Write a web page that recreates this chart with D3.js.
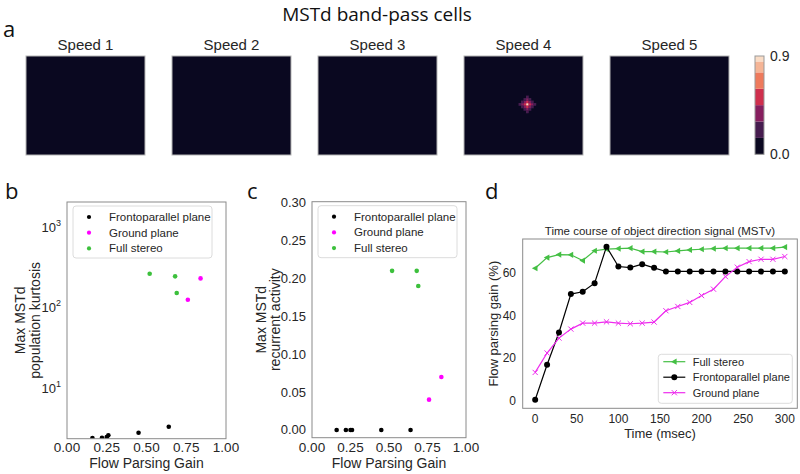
<!DOCTYPE html>
<meta charset="utf-8">
<style>
  body { margin: 0; background: #fff; }
  text { font-family: "Liberation Sans", Arial, sans-serif; fill: #262626; }
  .big { font-family: "Open Sans", sans-serif; fill: #111; }
</style>
<body>
<script src="https://cdn.jsdelivr.net/npm/d3@7"></script>
<script>

// ---- panel a: heatmaps per speed ----
var speeds = ["Speed 1", "Speed 2", "Speed 3", "Speed 4", "Speed 5"];
var gridCols = 48, gridRows = 40;
// non-zero cells [speed, col, row, value]; everything else is 0
var spotCells = [
  ["Speed 4", 25, 19, 0.88],
  ["Speed 4", 24, 19, 0.55], ["Speed 4", 26, 19, 0.55], ["Speed 4", 25, 18, 0.55], ["Speed 4", 25, 20, 0.55],
  ["Speed 4", 24, 18, 0.4], ["Speed 4", 26, 18, 0.4], ["Speed 4", 24, 20, 0.4], ["Speed 4", 26, 20, 0.4],
  ["Speed 4", 23, 19, 0.32], ["Speed 4", 27, 19, 0.32], ["Speed 4", 25, 17, 0.32], ["Speed 4", 25, 21, 0.32],
  ["Speed 4", 22, 19, 0.16], ["Speed 4", 28, 19, 0.16], ["Speed 4", 25, 16, 0.16], ["Speed 4", 25, 22, 0.16],
  ["Speed 4", 23, 18, 0.16], ["Speed 4", 27, 18, 0.16], ["Speed 4", 23, 20, 0.16], ["Speed 4", 27, 20, 0.16],
  ["Speed 4", 24, 17, 0.16], ["Speed 4", 26, 17, 0.16], ["Speed 4", 24, 21, 0.16], ["Speed 4", 26, 21, 0.16]
];
var cbarLevels = [0, 0.15, 0.3, 0.45, 0.6, 0.75, 0.85, 0.9];
var cbarColors = ["#0a0820", "#461c4f", "#861e5e", "#cf2f4d", "#ee7a5c", "#f5b596", "#f9dcc6"];
var cbarTicks = [0.0, 0.9];

// ---- panels b and c ----
var groups = ["Frontoparallel plane", "Ground plane", "Full stereo"];
var groupColors = ["#000000", "#ff00ff", "#3cc03c"];
var frontoGain = [0.16, 0.22, 0.25, 0.26, 0.45, 0.64];
var frontoKurtosis = [2.41, 2.43, 2.48, 2.61, 2.81, 3.33];
var frontoRecurrent = [0, 0, 0, 0, 0, 0];
var groundGain = [0.84, 0.76];
var groundKurtosis = [232, 126];
var groundRecurrent = [0.07, 0.04];
var stereoGain = [0.52, 0.68, 0.69];
var stereoKurtosis = [265, 246, 153];
var stereoRecurrent = [0.21, 0.21, 0.19];
var gainTicks = [0, 0.25, 0.5, 0.75, 1];
var kurtTicks = [10, 100, 1000];
var recTicks = [0, 0.05, 0.1, 0.15, 0.2, 0.25, 0.3];

// ---- panel d ----
var times = [0, 14.3, 28.6, 42.9, 57.1, 71.4, 85.7, 100, 114.3, 128.6, 142.9, 157.1,
             171.4, 185.7, 200, 214.3, 228.6, 242.9, 257.1, 271.4, 285.7, 300];
var fullStereo = [62.0, 67.0, 68.4, 68.3, 65.6, 70.2, 71.0, 71.2, 71.4, 69.8, 69.8, 69.6,
                  70.1, 70.6, 70.9, 71.2, 71.4, 71.4, 71.4, 71.4, 71.4, 71.9];
var frontoTime = [0.4, 16.8, 31.9, 49.9, 51.0, 55.0, 72.1, 62.8, 62.3, 63.9, 62.2, 60.5,
                  60.5, 60.5, 60.5, 60.5, 60.5, 60.5, 60.5, 60.5, 60.5, 60.5];
var groundTime = [13.2, 22.3, 29.3, 33.5, 36.3, 36.3, 36.9, 36.3, 36.0, 36.3, 36.8, 42.1,
                  44.1, 46.0, 49.2, 52.2, 58.1, 62.5, 65.1, 66.2, 66.2, 67.5];
var timeTicks = [0, 50, 100, 150, 200, 250, 300];
var gainPctTicks = [0, 20, 40, 60];

var spine = "#8a8a8a";

var svg = d3.select("body").append("svg")
    .attr("width", 800)
    .attr("height", 474);

// soften the heatmap cells a little, like imshow interpolation
svg.append("defs").append("filter")
    .attr("id", "soft")
  .append("feGaussianBlur")
    .attr("stdDeviation", 0.7);

svg.append("text").attr("class", "big")
    .attr("x", 377).attr("y", 21)
    .attr("text-anchor", "middle")
    .style("font-size", "19px")
    .text("MSTd band-pass cells");

// panel letters
[["a", 3, 37], ["b", 5, 199], ["c", 247, 199], ["d", 485, 199]].forEach(function(l) {
  svg.append("text").attr("class", "big")
      .attr("x", l[1]).attr("y", l[2])
      .style("font-size", "22px")
      .text(l[0]);
});

// ===== panel a =====
var color = d3.scaleThreshold()
    .domain(cbarLevels.slice(1, -1))
    .range(cbarColors);

var hx = d3.scaleBand().domain(speeds).range([26, 729]).paddingInner(0.185);
var hTop = 56, hH = 99;
var cx = d3.scaleLinear().domain([0, gridCols]).range([0, hx.bandwidth()]);
var cy = d3.scaleLinear().domain([0, gridRows]).range([0, hH]);

var maps = svg.selectAll("g.map")
    .data(speeds)
  .enter().append("g")
    .attr("class", "map")
    .attr("transform", function(d) { return "translate(" + hx(d) + "," + hTop + ")"; });

maps.append("rect")
    .attr("width", hx.bandwidth())
    .attr("height", hH)
    .attr("fill", color(0));

maps.append("g")
    .attr("filter", "url(#soft)")
  .selectAll("rect.cell")
    .data(function(s) { return spotCells.filter(function(c) { return c[0] == s; }); })
  .enter().append("rect")
    .attr("class", "cell")
    .attr("x", function(c) { return cx(c[1]); })
    .attr("y", function(c) { return cy(c[2]); })
    .attr("width", cx(1) + 0.3)
    .attr("height", cy(1) + 0.3)
    .attr("fill", function(c) { return color(c[3]); });

maps.append("rect")
    .attr("width", hx.bandwidth())
    .attr("height", hH)
    .attr("fill", "none")
    .attr("stroke", "#b5b5b5")
    .attr("stroke-width", 1);

maps.append("text")
    .attr("x", hx.bandwidth() / 2)
    .attr("y", -6)
    .attr("text-anchor", "middle")
    .style("font-size", "15px")
    .text(function(d) { return d; });

// colorbar
var cbX = 755, cbW = 9;
var cbY = d3.scaleLinear().domain([0, 0.9]).range([154.3, 56]);
var bands = d3.pairs(cbarLevels);
svg.selectAll("rect.band")
    .data(bands)
  .enter().append("rect")
    .attr("class", "band")
    .attr("x", cbX)
    .attr("y", function(d) { return cbY(d[1]); })
    .attr("width", cbW)
    .attr("height", function(d) { return cbY(d[0]) - cbY(d[1]); })
    .attr("fill", function(d, i) { return cbarColors[i]; });
svg.append("rect")
    .attr("x", cbX).attr("y", cbY(0.9))
    .attr("width", cbW).attr("height", cbY(0) - cbY(0.9))
    .attr("fill", "none").attr("stroke", "#999");
svg.selectAll("text.cbt")
    .data(cbarTicks)
  .enter().append("text")
    .attr("class", "cbt")
    .attr("x", cbX + cbW + 6)
    .attr("y", function(d) { return cbY(d) + 5; })
    .style("font-size", "14px")
    .text(function(d) { return d.toFixed(1); });

// ===== scatter panels b, c =====
function scatterPanel(box, yScale, yKey, yTickVals, yTickFmt, ylab, ylabX, clipId) {
  var x = d3.scaleLinear().domain([0, 1]).range([box.x0, box.x1]);
  var g = svg.append("g");

  g.append("clipPath").attr("id", clipId)
    .append("rect")
      .attr("x", box.x0).attr("y", box.y0)
      .attr("width", box.x1 - box.x0).attr("height", box.y1 - box.y0);

  var sets = [
    {gain: frontoGain, val: yKey == "k" ? frontoKurtosis : frontoRecurrent, c: groupColors[0]},
    {gain: groundGain, val: yKey == "k" ? groundKurtosis : groundRecurrent, c: groupColors[1]},
    {gain: stereoGain, val: yKey == "k" ? stereoKurtosis : stereoRecurrent, c: groupColors[2]}
  ];
  var pts = g.append("g").attr("clip-path", "url(#" + clipId + ")");
  sets.forEach(function(s) {
    pts.selectAll(null)
        .data(s.gain)
      .enter().append("circle")
        .attr("cx", function(d) { return x(d); })
        .attr("cy", function(d, i) { return yScale(s.val[i]); })
        .attr("r", 2.3)
        .attr("fill", s.c);
  });

  g.append("rect")
      .attr("x", box.x0).attr("y", box.y0)
      .attr("width", box.x1 - box.x0).attr("height", box.y1 - box.y0)
      .attr("fill", "none").attr("stroke", spine);

  g.selectAll("text.xt")
      .data(gainTicks)
    .enter().append("text")
      .attr("x", function(d) { return x(d); })
      .attr("y", 452)
      .attr("text-anchor", "middle")
      .style("font-size", "13.5px")
      .text(d3.format(".2f"));

  g.append("text")
      .attr("x", (box.x0 + box.x1) / 2)
      .attr("y", 468)
      .attr("text-anchor", "middle")
      .style("font-size", "14px")
      .text("Flow Parsing Gain");

  var yt = g.selectAll("text.yt")
      .data(yTickVals)
    .enter().append("text")
      .attr("x", box.x0 - 6)
      .attr("y", function(d) { return yScale(d) + 4.5; })
      .attr("text-anchor", "end")
      .style("font-size", "13px");
  yTickFmt(yt);

  var cyMid = (box.y0 + box.y1) / 2;
  ylab.forEach(function(t, i) {
    g.append("text")
        .attr("transform", "translate(" + ylabX[i] + "," + cyMid + ") rotate(-90)")
        .attr("text-anchor", "middle")
        .style("font-size", "14px")
        .text(t);
  });

  // legend
  var lg = g.append("g").attr("transform", "translate(" + (box.x0 + 6) + "," + (box.y0 + 4) + ")");
  lg.append("rect")
      .attr("width", 139).attr("height", 52)
      .attr("rx", 3)
      .attr("fill", "#fff").attr("stroke", "#dcdcdc");
  groups.forEach(function(name, i) {
    var yy = 11 + i * 15.7;
    lg.append("circle").attr("cx", 16).attr("cy", yy).attr("r", 2.1).attr("fill", groupColors[i]);
    lg.append("text").attr("x", 36).attr("y", yy + 4)
        .style("font-size", "11.5px").text(name);
  });
}

var yb = d3.scaleLog().domain([2.37, 2060]).range([438.7, 202]);
scatterPanel({x0: 67, x1: 226, y0: 202, y1: 438.7}, yb, "k", kurtTicks,
  function(sel) {
    sel.text("10").append("tspan")
        .attr("dy", -6).style("font-size", "9px")
        .text(function(d) { return Math.round(Math.log10(d)); });
    sel.attr("x", 61);
  },
  ["Max MSTd", "population kurtosis"], [25, 40], "clipB");

var yc = d3.scaleLinear().domain([-0.0102, 0.3013]).range([437.7, 201.7]);
scatterPanel({x0: 312, x1: 466, y0: 201.7, y1: 437.7}, yc, "r", recTicks,
  function(sel) { sel.text(d3.format(".2f")); },
  ["Max MSTd", "recurrent activity"], [266, 280], "clipC");

// ===== panel d =====
var dBox = {x0: 522.7, x1: 797.3, y0: 239, y1: 408.3};
var xd = d3.scaleLinear().domain([-15, 315]).range([dBox.x0, dBox.x1]);
var yd = d3.scaleLinear().domain([-3.6, 75.7]).range([dBox.y1, dBox.y0]);

var gd = svg.append("g");
gd.append("text")
    .attr("x", (dBox.x0 + dBox.x1) / 2).attr("y", 234.5)
    .attr("text-anchor", "middle")
    .style("font-size", "11.5px")
    .text("Time course of object direction signal (MSTv)");

var seriesD = [
  {name: "Full stereo", vals: fullStereo, c: "#44bf44", m: "tri"},
  {name: "Frontoparallel plane", vals: frontoTime, c: "#000000", m: "dot"},
  {name: "Ground plane", vals: groundTime, c: "#ee2cee", m: "x"}
];

function marker(sel, s) {
  if (s.m == "dot") {
    sel.append("circle").attr("r", 3).attr("fill", s.c);
  } else if (s.m == "tri") {
    sel.append("path").attr("d", "M-3.3,0L2.3,-3.1L2.3,3.1Z").attr("fill", s.c);
  } else {
    sel.append("path").attr("d", "M-2.6,-2.6L2.6,2.6M-2.6,2.6L2.6,-2.6")
        .attr("stroke", s.c).attr("stroke-width", 1).attr("fill", "none");
  }
}

var line = d3.line()
    .x(function(d, i) { return xd(times[i]); })
    .y(function(d) { return yd(d); });

seriesD.forEach(function(s) {
  gd.append("path")
      .attr("d", line(s.vals))
      .attr("fill", "none")
      .attr("stroke", s.c)
      .attr("stroke-width", 1.2);
  gd.selectAll(null)
      .data(s.vals)
    .enter().append("g")
      .attr("transform", function(d, i) { return "translate(" + xd(times[i]) + "," + yd(d) + ")"; })
      .each(function() { marker(d3.select(this), s); });
});

gd.append("rect")
    .attr("x", dBox.x0).attr("y", dBox.y0)
    .attr("width", dBox.x1 - dBox.x0).attr("height", dBox.y1 - dBox.y0)
    .attr("fill", "none").attr("stroke", spine);

gd.selectAll("text.xt")
    .data(timeTicks)
  .enter().append("text")
    .attr("x", function(d) { return xd(d); })
    .attr("y", 423)
    .attr("text-anchor", "middle")
    .style("font-size", "12px")
    .text(function(d) { return d; });
gd.append("text")
    .attr("x", (dBox.x0 + dBox.x1) / 2).attr("y", 438)
    .attr("text-anchor", "middle")
    .style("font-size", "13px")
    .text("Time (msec)");

gd.selectAll("text.yt")
    .data(gainPctTicks)
  .enter().append("text")
    .attr("x", 516)
    .attr("y", function(d) { return yd(d) + 4.3; })
    .attr("text-anchor", "end")
    .style("font-size", "12px")
    .text(function(d) { return d; });
gd.append("text")
    .attr("transform", "translate(498," + ((dBox.y0 + dBox.y1) / 2) + ") rotate(-90)")
    .attr("text-anchor", "middle")
    .style("font-size", "13px")
    .text("Flow parsing gain (%)");

var lgd = gd.append("g").attr("transform", "translate(658.3,354.3)");
lgd.append("rect")
    .attr("width", 134).attr("height", 49).attr("rx", 3)
    .attr("fill", "#fff").attr("stroke", "#dcdcdc");
seriesD.forEach(function(s, i) {
  var yy = 7.4 + i * 15.5;
  lgd.append("line").attr("x1", 5).attr("x2", 27).attr("y1", yy).attr("y2", yy)
      .attr("stroke", s.c).attr("stroke-width", 1.2);
  var mk = lgd.append("g").attr("transform", "translate(16," + yy + ")");
  marker(mk, s);
  lgd.append("text").attr("x", 34.4).attr("y", yy + 4)
      .style("font-size", "11px").text(s.name);
});

</script>
</body>
